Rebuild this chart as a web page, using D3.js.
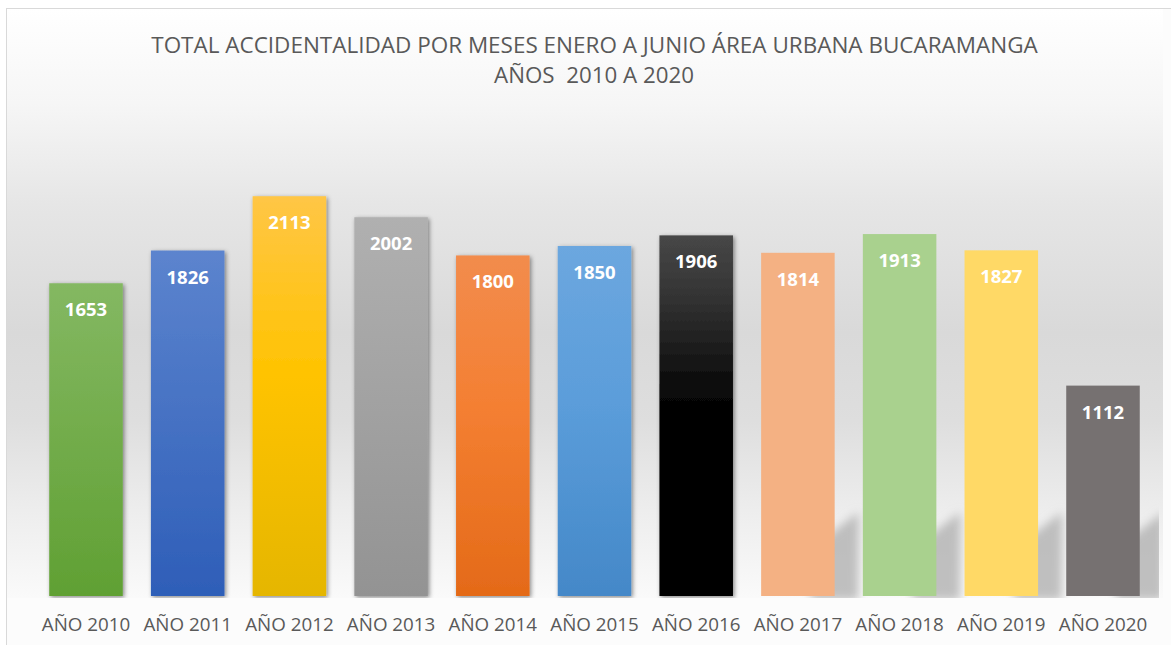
<!DOCTYPE html>
<html>
<head>
<meta charset="utf-8">
<script src="https://cdn.jsdelivr.net/npm/d3@7"></script>
<style>
  html, body { margin: 0; padding: 0; background: #fff; }
  svg { display: block; }
</style>
</head>
<body>
<div id="chart"></div>
<script>
// data
const years = ["AÑO 2010", "AÑO 2011", "AÑO 2012", "AÑO 2013", "AÑO 2014", "AÑO 2015",
               "AÑO 2016", "AÑO 2017", "AÑO 2018", "AÑO 2019", "AÑO 2020"]
const totals = [1653, 1826, 2113, 2002, 1800, 1850, 1906, 1814, 1913, 1827, 1112]
const titleLines = ["TOTAL ACCIDENTALIDAD POR MESES ENERO A JUNIO ÁREA URBANA BUCARAMANGA",
                    "AÑOS  2010 A 2020"]

// bar styles (gradient stops top -> bottom, or a flat colour)
const barStyles = [
  { stops: [[0, "#84b862"], [1, "#60a033"]] },
  { stops: [[0, "#5c84ce"], [1, "#2e5eb8"]] },
  { stops: [[0, "#ffc646"], [0.45, "#ffc300"], [1, "#e5b600"]] },
  { stops: [[0, "#b0b0b0"], [1, "#939393"]] },
  { stops: [[0, "#f28c4d"], [0.45, "#f47f32"], [1, "#e46a18"]] },
  { stops: [[0, "#6ca7df"], [0.45, "#5b9dda"], [1, "#4488c8"]] },
  { stops: [[0, "#474747"], [0.15, "#363636"], [0.3, "#1f1f1f"], [0.42, "#0a0a0a"], [0.52, "#000000"], [1, "#000000"]] },
  { flat: "#f4b183" },
  { flat: "#a9d18e" },
  { flat: "#ffd966" },
  { flat: "#767171" }
]

const width = 1171, height = 645
const baseY = 596

const svg = d3.select("#chart").append("svg")
  .attr("width", width)
  .attr("height", height)

const defs = svg.append("defs")

// chart area background
const bg = defs.append("linearGradient")
  .attr("id", "bgGrad")
  .attr("x1", 0).attr("y1", 0).attr("x2", 0).attr("y2", 1)
;[[0, "#ffffff"], [0.16, "#f6f6f6"], [0.33, "#e6e6e6"], [0.55, "#d9d9d9"],
  [0.7, "#dedede"], [0.84, "#ececec"], [1, "#fafafa"]].forEach(s => {
  bg.append("stop").attr("offset", s[0]).attr("stop-color", s[1])
})

svg.append("rect")
  .attr("x", 0).attr("y", 0).attr("width", width).attr("height", height)
  .attr("fill", "#ffffff")
svg.append("rect")
  .attr("x", 6.5).attr("y", 8.5).attr("width", width).attr("height", height)
  .attr("fill", "#fcfcfc")
  .attr("stroke", "#d9d9d9")
svg.append("rect")
  .attr("x", 7).attr("y", 9).attr("width", 1156).attr("height", 589)
  .attr("fill", "url(#bgGrad)")

// filters
const drop = defs.append("filter").attr("id", "drop")
  .attr("x", "-20%").attr("y", "-10%").attr("width", "140%").attr("height", "120%")
drop.append("feDropShadow")
  .attr("dx", 1.5).attr("dy", 1.5).attr("stdDeviation", 2)
  .attr("flood-color", "#000").attr("flood-opacity", 0.45)

const blur = defs.append("filter").attr("id", "blur")
  .attr("filterUnits", "userSpaceOnUse")
  .attr("x", 0).attr("y", 0).attr("width", width).attr("height", height)
blur.append("feGaussianBlur").attr("stdDeviation", 5)

defs.append("clipPath").attr("id", "plotClip")
  .append("rect").attr("x", 7).attr("y", 9).attr("width", 1152).attr("height", 589)

barStyles.forEach((s, i) => {
  if (!s.stops) return
  const g = defs.append("linearGradient")
    .attr("id", "bar" + i)
    .attr("x1", 0).attr("y1", 0).attr("x2", 0).attr("y2", 1)
  s.stops.forEach(st => g.append("stop").attr("offset", st[0]).attr("stop-color", st[1]))
})

// scales
const x = d3.scaleBand()
  .domain(years)
  .range([28.9, 1160.1])
  .paddingInner(0.277)
  .paddingOuter(0.2)

const y = d3.scaleLinear()
  .domain([0, 2500])
  .range([baseY, baseY - 473])

// title
const title = svg.append("g").attr("fill", "#595959")
  .style("font-family", "'Open Sans', 'Noto Sans', sans-serif")
const t1 = title.append("text")
  .attr("x", 594.5).attr("y", 53)
  .attr("text-anchor", "middle")
  .style("font-size", "22px")
  .text(titleLines[0])
const w1 = t1.node().getComputedTextLength()
t1.style("font-size", (22 * 887 / w1) + "px")
const t2 = title.append("text")
  .attr("x", 594).attr("y", 83)
  .attr("text-anchor", "middle")
  .style("font-size", "22px")
  .style("white-space", "pre")
  .attr("xml:space", "preserve")
  .text(titleLines[1])
const w2 = t2.node().getComputedTextLength()
t2.style("font-size", (22 * 200 / w2) + "px")

// diagonal shadows behind the flat bars
const plot = svg.append("g").attr("clip-path", "url(#plotClip)")
plot.append("g")
  .attr("filter", "url(#blur)")
  .selectAll("path")
  .data(totals.map((v, i) => ({ v, i, name: years[i] })).filter(d => barStyles[d.i].flat))
  .join("path")
  .attr("d", d => {
    const x1 = x(d.name) + x.bandwidth()
    return `M${x1 - 25},${baseY + 4}L${x1 + 24},${baseY + 4}L${x1 + 24},${baseY - 84}L${x1 - 10},${baseY - 58}Z`
  })
  .attr("fill", "#b2b2b2")
  .attr("opacity", 0.8)

// bars
plot.append("g")
  .selectAll("rect")
  .data(totals.map((v, i) => ({ v, i, name: years[i] })))
  .join("rect")
  .attr("x", d => x(d.name))
  .attr("y", d => y(d.v))
  .attr("width", x.bandwidth())
  .attr("height", d => y(0) - y(d.v))
  .attr("fill", d => barStyles[d.i].flat || `url(#bar${d.i})`)
  .attr("filter", d => barStyles[d.i].flat ? null : "url(#drop)")

// value labels
svg.append("g")
  .selectAll("text")
  .data(totals.map((v, i) => ({ v, name: years[i] })))
  .join("text")
  .attr("x", d => x(d.name) + x.bandwidth() / 2)
  .attr("y", d => y(d.v) + 33)
  .attr("text-anchor", "middle")
  .attr("fill", "#ffffff")
  .style("font-family", "'Open Sans', 'Noto Sans', sans-serif")
  .style("font-weight", "bold")
  .style("font-size", "18.5px")
  .text(d => d.v)

// category axis
const xAxis = svg.append("g")
  .attr("transform", `translate(0,${baseY})`)
  .call(d3.axisBottom(x).tickSize(0).tickPadding(0))
xAxis.select(".domain").remove()
xAxis.selectAll("text")
  .attr("y", 35)
  .attr("dy", null)
  .attr("fill", "#595959")
  .style("font-family", "'Open Sans', 'Noto Sans', sans-serif")
  .style("font-size", "18.8px")
</script>
</body>
</html>
